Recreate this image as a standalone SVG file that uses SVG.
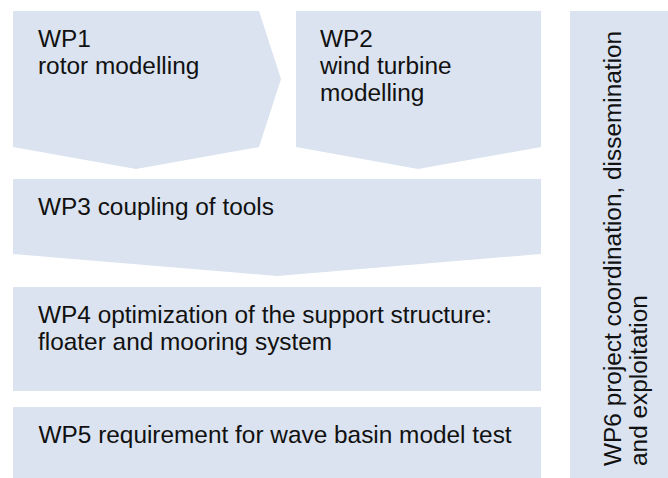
<svg xmlns="http://www.w3.org/2000/svg" width="668" height="478" viewBox="0 0 668 478">
  <style>
    .box { fill: #dae3ef; stroke: none; }
    .lbl { font-family: "Liberation Sans", Arial, sans-serif; font-size: 24.4px; fill: #111111; }
  </style>
  <rect width="668" height="478" fill="#ffffff"/>
  <g id="wp1">
    <polygon class="box" points="13,11 259,11 281,79 259,147 136,169 13,147"/>
    <text class="lbl" x="38" y="47">WP1</text>
    <text class="lbl" x="38" y="74">rotor modelling</text>
  </g>
  <g id="wp2">
    <polygon class="box" points="296,11 541,11 541,147 418,169 296,147"/>
    <text class="lbl" x="320" y="47">WP2</text>
    <text class="lbl" x="320" y="74">wind turbine</text>
    <text class="lbl" x="320" y="101">modelling</text>
  </g>
  <g id="wp3">
    <polygon class="box" points="13,179 541,179 541,254 277,276 13,254"/>
    <text class="lbl" x="38" y="215">WP3 coupling of tools</text>
  </g>
  <g id="wp4">
    <rect class="box" x="13" y="287" width="528" height="104"/>
    <text class="lbl" x="38" y="323">WP4 optimization of the support structure:</text>
    <text class="lbl" x="38" y="350">floater and mooring system</text>
  </g>
  <g id="wp5">
    <rect class="box" x="13" y="407" width="528" height="71"/>
    <text class="lbl" x="38.5" y="442.5">WP5 requirement for wave basin model test</text>
  </g>
  <g id="wp6">
    <rect class="box" x="570" y="11" width="98" height="467"/>
    <text class="lbl" transform="translate(621,466) rotate(-90)" x="0" y="0">WP6 project coordination, dissemination</text>
    <text class="lbl" transform="translate(647,466) rotate(-90)" x="0" y="0">and exploitation</text>
  </g>
  <g id="connectors"/>
</svg>
